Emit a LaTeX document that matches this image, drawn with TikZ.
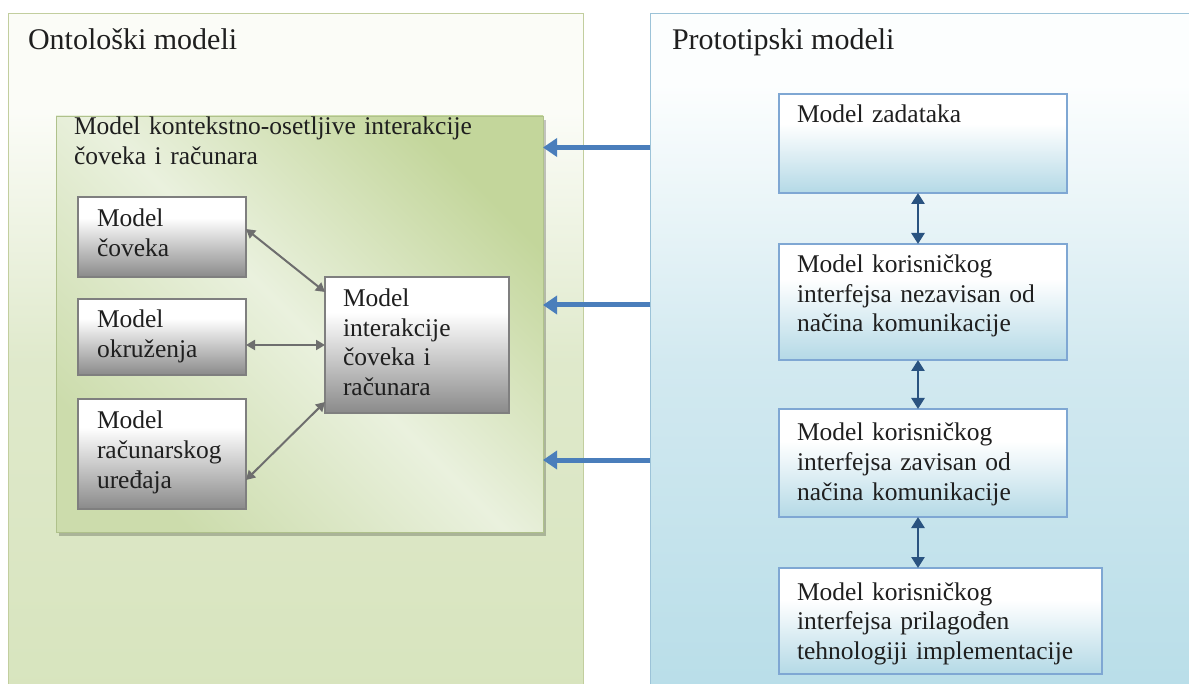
\documentclass[tikz,border=0pt]{standalone}
\usepackage{fontspec}
\setmainfont{Liberation Serif}
\usetikzlibrary{arrows.meta,shadows,calc}

% palette
\definecolor{ontoEdge}{HTML}{C2CE9E}
\definecolor{ontoLow}{HTML}{D7E4BD}
\definecolor{ontoMid}{HTML}{DFE9CB}
\definecolor{ontoHigh}{HTML}{FBFCF7}
\definecolor{protoEdge}{HTML}{9CC3D8}
\definecolor{protoLow}{HTML}{B7DDE8}
\definecolor{protoMid}{HTML}{D2E9F0}
\definecolor{protoHigh}{HTML}{FCFEFE}
\definecolor{ctxDark}{HTML}{C3D69B}
\definecolor{ctxSoft}{HTML}{CCDCAC}
\definecolor{ctxLight}{HTML}{EAF1DE}
\definecolor{grayLow}{HTML}{8A8A8A}
\definecolor{grayEdge}{HTML}{7F7F7F}
\definecolor{boxBlue}{HTML}{B4D9E6}
\definecolor{boxEdge}{HTML}{7FA7D3}
\definecolor{linkBlue}{HTML}{4A7EBB}
\definecolor{stepBlue}{HTML}{2A5380}
\definecolor{linkGray}{HTML}{6E6E6E}

% shadings: the path covers the 25bp--75bp band
\pgfdeclareverticalshading{ontoFade}{100bp}{color(0bp)=(ontoLow); color(25bp)=(ontoLow); color(50bp)=(ontoMid); color(68bp)=(ontoHigh); color(100bp)=(ontoHigh)}
\pgfdeclareverticalshading{protoFade}{100bp}{color(0bp)=(protoLow); color(25bp)=(protoLow); color(50bp)=(protoMid); color(70bp)=(protoHigh); color(100bp)=(protoHigh)}
\pgfdeclareverticalshading{grayFade}{100bp}{color(0bp)=(grayLow); color(25bp)=(grayLow); color(62bp)=(white); color(100bp)=(white)}
\pgfdeclareverticalshading{blueFade}{100bp}{color(0bp)=(boxBlue); color(25bp)=(boxBlue); color(60bp)=(white); color(100bp)=(white)}
\pgfdeclarehorizontalshading{ctxGlow}{100bp}{color(0bp)=(ctxSoft); color(25bp)=(ctxSoft); color(50bp)=(ctxLight); color(75bp)=(ctxDark); color(100bp)=(ctxDark)}

\begin{document}
\begin{tikzpicture}[x=1pt,y=-1pt,
  every node/.style={inner sep=0pt, outer sep=0pt},
  panel/.style={rectangle, anchor=north west, line width=1pt},
  ctxbox/.style={rectangle, anchor=north west, shade, shading=ctxGlow, shading angle=45,
    draw=ctxDark!90!black, line width=0.6pt,
    drop shadow={shadow xshift=3pt, shadow yshift=-4pt, fill=black, opacity=0.22}},
  graybox/.style={rectangle, anchor=north west, shade, shading=grayFade, draw=grayEdge, line width=1.2pt},
  bluebox/.style={rectangle, anchor=north west, shade, shading=blueFade, draw=boxEdge, line width=1.2pt},
  txt/.style={anchor=base west, align=left, text width=400pt, text=black!88, font=\fontsize{25.5pt}{29.5pt}\selectfont},
  titletxt/.style={anchor=base west, text=black!88, font=\fontsize{30pt}{36pt}\selectfont},
  grayarrow/.style={draw=linkGray, line width=2pt, {Triangle[width=10pt,length=9pt]}-{Triangle[width=10pt,length=9pt]}},
  steparrow/.style={draw=stepBlue, line width=2.6pt, {Triangle[width=13pt,length=11pt]}-{Triangle[width=13pt,length=11pt]}},
  linkarrow/.style={draw=linkBlue, line width=5pt, -{Triangle[width=18pt,length=14pt]}}
]
\useasboundingbox (0,0) rectangle (1189,684);

% two large panels, running past the lower and right edges
\begin{scope}
  \clip (0,0) rectangle (1189,684);
  \node[panel, draw=ontoEdge, shade, shading=ontoFade, minimum width=575pt, minimum height=700pt] (onto) at (8,14) {};
  \node[panel, draw=protoEdge, shade, shading=protoFade, minimum width=560pt, minimum height=700pt] (proto) at (650,14) {};
\end{scope}
\node[titletxt] (ontoT) at ([xshift=20pt,yshift=-36pt]onto.north west) {Ontološki modeli};
\node[titletxt] (protoT) at ([xshift=22pt,yshift=-36pt]proto.north west) {Prototipski modeli};

% context-aware interaction model
\node[ctxbox, minimum width=487pt, minimum height=416pt] (ctx) at (56,116) {};
\node[txt] (ctxT) at ([xshift=18pt,yshift=-19pt]ctx.north west) {Model kontekstno-osetljive interakcije\\čoveka i računara};

\node[graybox, minimum width=168pt, minimum height=80pt] (cov) at (78,197) {};
\node[txt] (covT) at ([xshift=19pt,yshift=-30pt]cov.north west) {Model\\čoveka};
\node[graybox, minimum width=168pt, minimum height=76pt] (okr) at (78,299) {};
\node[txt] (okrT) at ([xshift=19pt,yshift=-29pt]okr.north west) {Model\\okruženja};
\node[graybox, minimum width=168pt, minimum height=110pt] (ure) at (78,399) {};
\node[txt] (ureT) at ([xshift=19pt,yshift=-30pt]ure.north west) {Model\\računarskog\\uređaja};
\node[graybox, minimum width=184pt, minimum height=136pt] (int) at (325,277) {};
\node[txt] (intT) at ([xshift=18pt,yshift=-30pt]int.north west) {Model\\interakcije\\čoveka i\\računara};

\draw[grayarrow] ([yshift=8pt]cov.east) -- ([yshift=53pt]int.west);
\draw[grayarrow] (okr.east |- int.west) -- (int.west);
\draw[grayarrow] ([yshift=-26pt]ure.east) -- ([yshift=-57pt]int.west);

% prototype chain
\node[bluebox, minimum width=288pt, minimum height=99pt] (b1) at (779,94) {};
\node[txt] (b1T) at ([xshift=18pt,yshift=-29pt]b1.north west) {Model zadataka};
\node[bluebox, minimum width=288pt, minimum height=116pt] (b2) at (779,244) {};
\node[txt] (b2T) at ([xshift=18pt,yshift=-29pt]b2.north west) {Model korisničkog\\interfejsa nezavisan od\\načina komunikacije};
\node[bluebox, minimum width=288pt, minimum height=108pt] (b3) at (779,409) {};
\node[txt] (b3T) at ([xshift=18pt,yshift=-32pt]b3.north west) {Model korisničkog\\interfejsa zavisan od\\načina komunikacije};
\node[bluebox, minimum width=323pt, minimum height=106pt] (b4) at (779,568) {};
\node[txt] (b4T) at ([xshift=18pt,yshift=-32pt]b4.north west) {Model korisničkog\\interfejsa prilagođen\\tehnologiji implementacije};

\coordinate (axis) at ([xshift=-5pt]b1.south);
\draw[steparrow] (axis) -- (axis |- b2.north);
\draw[steparrow] (axis |- b2.south) -- (axis |- b3.north);
\draw[steparrow] (axis |- b3.south) -- (axis |- b4.north);

% links from the prototype panel to the ontology
\coordinate (l1) at ([yshift=-4pt]b1.west);
\coordinate (l2) at ([yshift=-3pt]b2.west);
\coordinate (l3) at ([yshift=3pt]b3.west);
\draw[linkarrow] (proto.west |- l1) -- (ctx.east |- l1);
\draw[linkarrow] (proto.west |- l2) -- (ctx.east |- l2);
\draw[linkarrow] (proto.west |- l3) -- (ctx.east |- l3);
\end{tikzpicture}
\end{document}
